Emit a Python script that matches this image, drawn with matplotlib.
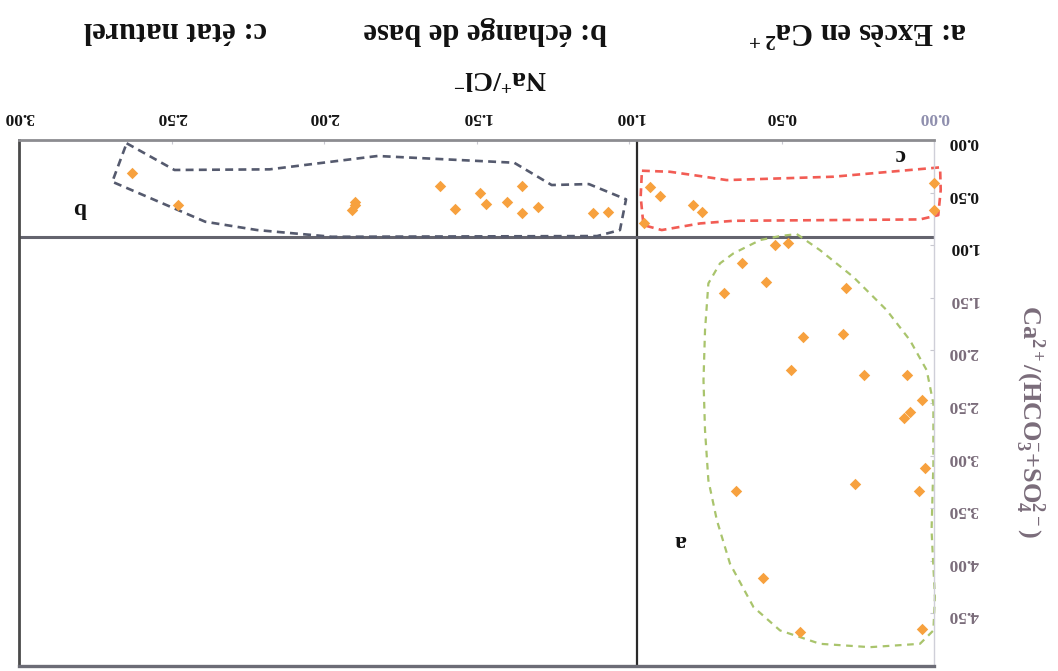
import matplotlib
matplotlib.use("Agg")
import matplotlib.pyplot as plt

plt.rcParams['font.family'] = ['Liberation Serif', 'DejaVu Serif']
plt.rcParams['font.weight'] = 'bold'
plt.rcParams['mathtext.fontset'] = 'custom'
plt.rcParams['mathtext.rm'] = 'Liberation Serif:bold'
plt.rcParams['mathtext.it'] = 'Liberation Serif:bold'
plt.rcParams['mathtext.bf'] = 'Liberation Serif:bold'
plt.rcParams['mathtext.default'] = 'bf'

# ---- samples, grouped by hydrochemical process ----
# a: excess of Ca2+
na_cl_a = [0.52, 0.48, 0.63, 0.55, 0.69, 0.29, 0.43, 0.30, 0.47, 0.23, 0.09,
           0.04, 0.08, 0.10, 0.03, 0.26, 0.65, 0.05, 0.56, 0.44, 0.04]
ca_ratio_a = [1.00, 0.98, 1.17, 1.35, 1.45, 1.41, 1.87, 1.84, 2.19, 2.23, 2.23,
              2.47, 2.59, 2.64, 3.12, 3.27, 3.34, 3.34, 4.16, 4.68, 4.65]
# b: base exchange
na_cl_b = [2.63, 2.48, 1.90, 1.91, 1.90, 1.62, 1.57, 1.49, 1.47, 1.40, 1.35,
           1.35, 1.30, 1.12, 1.07]
ca_ratio_b = [0.31, 0.62, 0.62, 0.67, 0.59, 0.44, 0.66, 0.50, 0.61, 0.59, 0.44,
              0.69, 0.64, 0.69, 0.68]
# c: natural state
na_cl_c = [0.93, 0.90, 0.79, 0.76, 0.95, 0.00, 0.00]
ca_ratio_c = [0.45, 0.53, 0.62, 0.68, 0.79, 0.41, 0.67]

# hand-drawn group envelopes (Na/Cl, Ca ratio)
env_a_x = [0.45, 0.374, 0.265, 0.155, 0.079, 0.024, 0.002, 0.002, 0.008, -0.003,
           0.002, 0.046, 0.21, 0.374, 0.505, 0.592, 0.669, 0.712, 0.74, 0.751,
           0.756, 0.751, 0.74, 0.702, 0.658, 0.57, 0.505, 0.45]
env_a_y = [0.894, 1.047, 1.301, 1.618, 1.903, 2.188, 2.505, 3.076, 3.711, 4.345,
           4.662, 4.789, 4.821, 4.789, 4.662, 4.44, 4.028, 3.616, 3.235, 2.759,
           2.284, 1.808, 1.363, 1.173, 1.078, 0.951, 0.913, 0.894]
env_b_x = [2.648, 2.491, 2.179, 1.825, 1.377, 1.254, 1.132, 1.010, 1.030, 1.105,
           1.975, 2.220, 2.390, 2.695, 2.648]
env_b_y = [0.031, 0.285, 0.279, 0.152, 0.216, 0.428, 0.419, 0.564, 0.856, 0.913,
           0.920, 0.856, 0.777, 0.397, 0.031]
env_c_x = [0.958, 0.866, 0.767, 0.680, 0.330, -0.020, -0.022, -0.014, 0.046,
           0.658, 0.767, 0.893, 0.953, 0.962, 0.958]
env_c_y = [0.292, 0.302, 0.343, 0.381, 0.349, 0.260, 0.476, 0.714, 0.755,
           0.768, 0.793, 0.856, 0.809, 0.539, 0.292]

# group dividers
na_cl_divide = 0.975
ca_divide = 0.92

x_ticks = [0.0, 0.5, 1.0, 1.5, 2.0, 2.5, 3.0]
y_ticks = [0.0, 0.5, 1.0, 1.5, 2.0, 2.5, 3.0, 3.5, 4.0, 4.5]

group_labels = ['a: Excès en Ca$^{2+}$', 'b: échange de base', 'c: état naturel']

W, H = 1058, 671
fig = plt.figure(figsize=(W / 100, H / 100), dpi=100)
fig.patch.set_facecolor('white')
ax = fig.add_axes([19.3 / W, 1 - 666 / H, (934 - 19.3) / W, (666 - 140) / H])

# the sheet is printed upside down: both axes reversed, every text turned 180°
ax.set_xlim(3.0, 0.0)
ax.set_ylim(5.0, 0.0)
ax.xaxis.tick_top()
ax.yaxis.tick_right()

ax.set_xticks(x_ticks)
ax.set_xticklabels([f"{v:.2f}" for v in x_ticks])
ax.set_yticks(y_ticks)
ax.set_yticklabels([f"{v:.2f}" for v in y_ticks])
ax.tick_params(axis='x', labelrotation=180, labelsize=12.5, pad=11,
               direction='in', length=3, color='#c8c8d0')
ax.tick_params(axis='y', labelrotation=180, labelsize=12.5, pad=10,
               direction='in', length=3, color='#c8c8d0')
for lab in ax.get_xticklabels():
    lab.set_fontweight('bold')
    lab.set_color('#8f8fae' if lab.get_text() == '0.00' else '#141414')
for lab in ax.get_yticklabels():
    lab.set_fontweight('bold')
    lab.set_color('#141414' if float(lab.get_text()) <= 1.0 else '#7a6c7a')

ax.spines['top'].set_color('#8c8c90')
ax.spines['top'].set_linewidth(2.0)
ax.spines['bottom'].set_color('#6c6c76')
ax.spines['bottom'].set_linewidth(2.4)
ax.spines['left'].set_color('#4a4a4a')
ax.spines['left'].set_linewidth(2.0)
ax.spines['right'].set_color('#cfcfd8')
ax.spines['right'].set_linewidth(1.0)

ax.axvline(na_cl_divide, color='#2a2a2a', lw=1.6, zorder=2)
ax.axhline(ca_divide, color='#64646e', lw=2.2, zorder=2)

ax.plot(env_a_x, env_a_y, ls=(0, (3, 2.5)), color='#a9c46c', lw=1.6,
        clip_on=False, zorder=2)
ax.plot(env_b_x, env_b_y, ls=(0, (3, 2)), color='#555a6e', lw=1.9,
        clip_on=False, zorder=2)
ax.plot(env_c_x, env_c_y, ls=(0, (3, 2)), color='#f25c54', lw=1.9,
        clip_on=False, zorder=2)

dot = dict(marker='D', s=34, color='#f7a13e', linewidths=0, zorder=3, clip_on=False)
ax.scatter(na_cl_a, ca_ratio_a, **dot)
ax.scatter(na_cl_b, ca_ratio_b, **dot)
ax.scatter(na_cl_c, ca_ratio_c, **dot)

# group letters inside the chart
for txt, x, y in [('a', 0.833, 3.81), ('b', 2.80, 0.64), ('c', 0.11, 0.14)]:
    ax.text(x, y, txt, rotation=180, ha='center', va='center', fontsize=17,
            fontweight='bold', color='#111111')

# axis titles
fig.text(500 / W, 1 - 76 / H, 'Na$^{+}$/Cl$^{-}$', rotation=180, ha='center',
         va='center', fontsize=20, fontweight='bold', color='#111111')
fig.text(1030 / W, 1 - 422 / H, 'Ca$^{2+}$/(HCO$_3^{-}$+SO$_4^{2-}$)',
         rotation=270, ha='center', va='center', fontsize=19,
         fontweight='bold', color='#7a6c7a')

# group key
for txt, xc in zip(group_labels, [858, 485, 175]):
    fig.text(xc / W, 1 - 30 / H, txt, rotation=180, ha='center', va='center',
             fontsize=22, fontweight='bold', color='#111111')

fig.savefig('out.png', dpi=100, facecolor='white')
